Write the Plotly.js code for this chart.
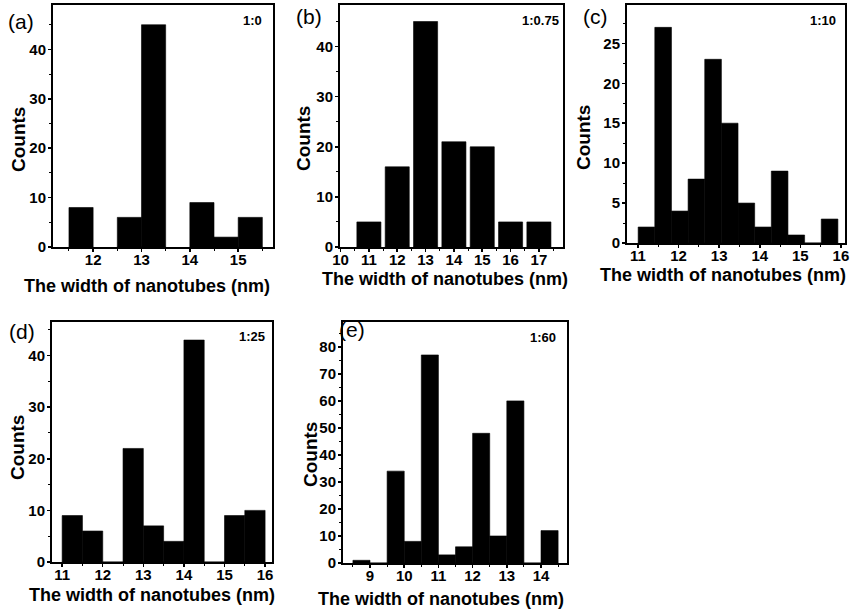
<!DOCTYPE html>
<html>
<head>
<meta charset="utf-8">
<script src="https://cdn.plot.ly/plotly-3.0.1.min.js"></script>
<style>html,body{margin:0;padding:0;background:#fff;}#chart{width:852px;height:610px;}</style>
</head>
<body>
<div id="chart"></div>
<script>
// ---- data ----
const aWidth = [11.75, 12.75, 13.25, 14.25, 14.75, 15.25];
const aCounts = [8, 6, 45, 9, 2, 6];

const bWidth = [11, 12, 13, 14, 15, 16, 17];
const bCounts = [5, 16, 45, 21, 20, 5, 5];

const cWidth = [11.21, 11.62, 12.03, 12.44, 12.85, 13.26, 13.67, 14.08, 14.49, 14.90, 15.31, 15.72];
const cCounts = [2, 27, 4, 8, 23, 15, 5, 2, 9, 1, 0, 3];

const dWidth = [11.25, 11.75, 12.25, 12.75, 13.25, 13.75, 14.25, 14.75, 15.25, 15.75];
const dCounts = [9, 6, 0, 22, 7, 4, 43, 0, 9, 10];

const eWidth = [8.75, 9.25, 9.75, 10.25, 10.75, 11.25, 11.75, 12.25, 12.75, 13.25, 13.75, 14.25];
const eCounts = [1, 0, 34, 8, 77, 3, 6, 48, 10, 60, 0, 12];

const panelLabels = ['(a)', '(b)', '(c)', '(d)', '(e)'];
const ratioLabels = ['1:0', '1:0.75', '1:10', '1:25', '1:60'];
const xTitle = 'The width of nanotubes (nm)';
const yTitle = 'Counts';

// ---- layout helpers ----
const W = 852, H = 610;
const px = x => x / W;
const py = y => 1 - y / H;
const FONT = 'Liberation Sans, Arial, sans-serif';

function bars(x, y, w, xa, ya) {
  return {type: 'bar', x: x, y: y, width: w, xaxis: xa, yaxis: ya,
    marker: {color: '#000', line: {color: '#000', width: 0.6}}, showlegend: false, hoverinfo: 'x+y'};
}

const data = [
  bars(aWidth, aCounts, 0.5, 'x', 'y'),
  bars(bWidth, bCounts, 0.85, 'x2', 'y2'),
  bars(cWidth, cCounts, 0.41, 'x3', 'y3'),
  bars(dWidth, dCounts, 0.5, 'x4', 'y4'),
  bars(eWidth, eCounts, 0.5, 'x5', 'y5')
];

function xax(l, r, range, tickvals, anchor) {
  return {domain: [px(l), px(r)], range: range, anchor: anchor,
    tickmode: 'array', tickvals: tickvals,
    showline: true, linewidth: 2, linecolor: '#000', mirror: true,
    ticks: 'outside', ticklen: 3, tickwidth: 1.5, tickcolor: '#000',
    ticklabelstandoff: -5,
    minor: {ticks: 'outside', ticklen: 2, tickwidth: 1, tickcolor: '#000', dtick: 0.5, tick0: 0},
    showgrid: false, zeroline: false,
    tickfont: {family: FONT, size: 15, weight: 'bold', color: '#000'}};
}
function yax(top, bottom, range, dtick, minorD, anchor) {
  return {domain: [py(bottom), py(top)], range: range, anchor: anchor,
    tick0: 0, dtick: dtick,
    showline: true, linewidth: 2, linecolor: '#000', mirror: true,
    ticks: 'outside', ticklen: 3, tickwidth: 1.5, tickcolor: '#000',
    ticklabelstandoff: -1,
    minor: {ticks: 'outside', ticklen: 2, tickwidth: 1, tickcolor: '#000', dtick: minorD, tick0: 0},
    showgrid: false, zeroline: false,
    tickfont: {family: FONT, size: 15, weight: 'bold', color: '#000'}};
}

const layout = {
  width: W, height: H, autosize: false,
  margin: {l: 0, r: 0, t: 0, b: 0},
  paper_bgcolor: '#fff', plot_bgcolor: '#fff',
  bargap: 0,
  xaxis:  xax(53, 273, [11.17, 15.72], [12, 13, 14, 15], 'y'),
  yaxis:  yax(5, 247, [0, 49], 10, 5, 'x'),
  xaxis2: xax(340, 563, [9.98, 17.85], [10, 11, 12, 13, 14, 15, 16, 17], 'y2'),
  yaxis2: yax(5, 247, [0, 48.3], 10, 5, 'x2'),
  xaxis3: xax(627, 845, [10.73, 16.1], [11, 12, 13, 14, 15, 16], 'y3'),
  yaxis3: yax(5, 243, [0, 29.8], 5, 2.5, 'x3'),
  xaxis4: xax(52, 272, [10.75, 16.17], [11, 12, 13, 14, 15, 16], 'y4'),
  yaxis4: yax(322, 562, [0, 46.5], 10, 5, 'x4'),
  xaxis5: xax(343, 567, [8.21, 14.76], [9, 10, 11, 12, 13, 14], 'y5'),
  yaxis5: yax(322, 563, [0, 89.2], 10, 5, 'x5'),
  annotations: []
};

function ann(text, x, y, size, weight, xanchor) {
  return {text: text, xref: 'paper', yref: 'paper', x: px(x), y: py(y),
    xanchor: xanchor || 'center', yanchor: 'middle', showarrow: false,
    font: {family: FONT, size: size, weight: weight, color: '#000'}};
}

// x-axis titles
const xTitlePos = [[147, 286], [445, 279], [723, 275], [152, 595], [441, 599]];
// y-axis titles
const yTitlePos = [[18, 140], [303, 139], [584, 138], [17, 448], [310, 455]];
// panel letters
const letterPos = [[21, 21], [309, 17], [595, 16], [22, 331], [352, 329]];
// ratio labels (right edge)
const ratioPos = [[264, 20], [561, 20], [838, 20], [267, 336], [558, 337]];

for (let i = 0; i < 5; i++) {
  layout.annotations.push(ann(xTitle, xTitlePos[i][0], xTitlePos[i][1], 18, 'bold'));
  const yt = ann(yTitle, yTitlePos[i][0], yTitlePos[i][1], 19, 'bold');
  yt.textangle = -90;
  layout.annotations.push(yt);
  layout.annotations.push(ann(panelLabels[i], letterPos[i][0], letterPos[i][1], 21, 'normal'));
  layout.annotations.push(ann(ratioLabels[i], ratioPos[i][0], ratioPos[i][1], 13, 'bold', 'right'));
}

Plotly.newPlot('chart', data, layout, {displayModeBar: false, staticPlot: true});
</script>
</body>
</html>
